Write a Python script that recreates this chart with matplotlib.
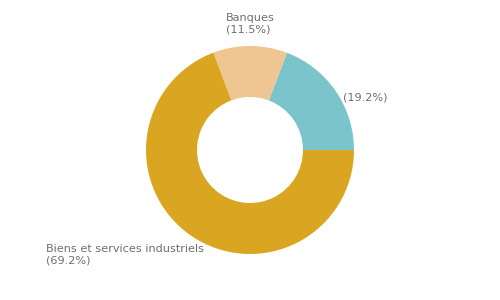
import matplotlib
matplotlib.use("Agg")
from matplotlib import pyplot as plt

names = ["", "Banques", "Biens et services industriels"]
shares = [19.2, 11.5, 69.2]
colors = ["#7bc4cc", "#efc592", "#daa520"]

fig = plt.figure(figsize=(5, 3), dpi=100)
ax = fig.add_axes([0, 0, 1, 1])

ax.pie(shares, colors=colors, startangle=0, counterclock=True,
       center=(250, 150), radius=104,
       wedgeprops=dict(width=51, linewidth=0))

# pie() resets the limits, so set them afterwards
ax.set_xlim(0, 500)
ax.set_ylim(0, 300)
ax.set_aspect("equal")
ax.axis("off")

# label positions (pixel coords, y up), text alignment
label_pos = [(343, 203, "left", "center"),
             (226, 287, "left", "top"),
             (46, 56, "left", "top")]
for name, share, (x, y, ha, va) in zip(names, shares, label_pos):
    txt = "(%.1f%%)" % share
    if name:
        txt = name + "\n" + txt
    ax.text(x, y, txt, ha=ha, va=va, fontsize=8.1, color="#6e6e6e",
            linespacing=1.2)

fig.savefig("out.png", dpi=100)
